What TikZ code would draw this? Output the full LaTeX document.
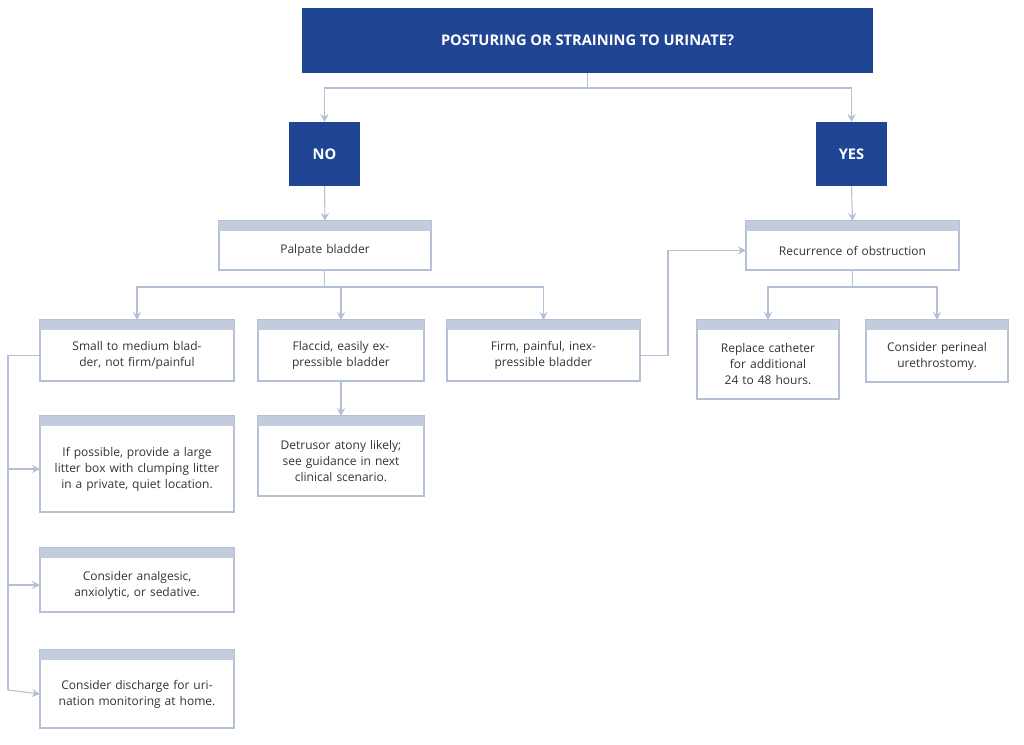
\documentclass[tikz,border=0pt]{standalone}
\usepackage{fontspec}
\setmainfont{Open Sans}
\usetikzlibrary{arrows.meta}
\definecolor{navy}{HTML}{1F4594}
\definecolor{strip}{HTML}{C3CCDD}
\definecolor{edge}{HTML}{B4C0D6}
\begin{document}
\begin{tikzpicture}[x=0.75pt, y=-0.75pt,
  head/.style={fill=navy, text=white, font=\bfseries\fontsize{11}{13}\selectfont},
  conn/.style={draw=edge, line width=0.8pt},
  arr/.style={conn, -{Stealth[length=6pt, width=6pt]}}]
  \useasboundingbox (0,0) rectangle (1024,744);
  % box: name, x1, y1, x2, y2, text
  \newcommand{\cbox}[6]{%
    \draw[edge, line width=0.8pt] (#2,#3) rectangle (#4,#5);
    \fill[strip] (#2,#3) rectangle (#4,#3+10);
    \node[align=center, font=\fontsize{9}{12}\selectfont, text=black!80, text width=(#4-#2-16)*0.75pt]
      (#1) at ({(#2+#4)/2},{(#3+#5)/2+5}) {#6};
    \coordinate (#1-n) at ({(#2+#4)/2},#3);
    \coordinate (#1-s) at ({(#2+#4)/2},#5);
    \coordinate (#1-w) at (#2,{(#3+#5)/2+5});
    \coordinate (#1-e) at (#4,{(#3+#5)/2+5});}

  \fill[navy] (302,8) rectangle (873,73);
  \node[head] (q) at (587.5,40.5) {POSTURING OR STRAINING TO URINATE?};
  \fill[navy] (289,122) rectangle (360,186);
  \node[head] (no) at (324.5,154) {NO};
  \fill[navy] (816,122) rectangle (887,186);
  \node[head] (yes) at (851.5,154) {YES};

  \cbox{palp}{219}{221}{431}{270}{Palpate bladder}
  \cbox{rec}{746}{221}{959}{270}{Recurrence of obstruction}
  \cbox{small}{40}{320}{234}{381}{Small to medium bladder, not firm/painful}
  \cbox{flac}{258}{320}{424}{381}{Flaccid, easily expressible bladder}
  \cbox{firm}{447}{320}{640}{381}{Firm, painful, inexpressible bladder}
  \cbox{repl}{697}{320}{839}{399}{Replace catheter for additional 24 to 48 hours.}
  \cbox{peri}{866}{320}{1008}{382}{Consider perineal urethrostomy.}
  \cbox{detr}{258}{416}{424}{496}{Detrusor atony likely; see guidance in next clinical scenario.}
  \cbox{litter}{40}{416}{234}{512}{If possible, provide a large litter box with clumping litter in a private, quiet location.}
  \cbox{analg}{40}{548}{234}{612}{Consider analgesic, anxiolytic, or sedative.}
  \cbox{disch}{40}{650}{234}{728}{Consider discharge for urination monitoring at home.}

  \coordinate (qs) at (587.5,73);
  \draw[conn] (qs) -- (587.5,88) coordinate (qj);
  \draw[arr] (qj) -| (324.5,122);
  \draw[arr] (qj) -| (851.5,122);
  \draw[arr] (324.5,186) -- (palp-n);
  \draw[arr] (851.5,186) -- (rec-n);

  \draw[conn] (324.5,270) -- (324.5,287) coordinate (pj);
  \draw[arr] (pj) -| (small-n);
  \draw[arr] (pj) -| (flac-n);
  \draw[arr] (pj) -| (firm-n);
  \draw[arr] (flac-s) -- (detr-n);
  \draw[arr] (firm-e) -- (668,355.5) |- (rec-w);

  \draw[conn] (852.5,270) -- (852.5,287) coordinate (rj);
  \draw[arr] (rj) -| (768,320);
  \draw[arr] (rj) -| (937,320);

  \draw[conn] (small-w) -- (8,355.5) coordinate (lj) -- (8,690);
  \draw[arr] (8,469) -- (litter-w);
  \draw[arr] (8,585) -- (analg-w);
  \draw[arr] (8,690) -- (disch-w);
\end{tikzpicture}
\end{document}
